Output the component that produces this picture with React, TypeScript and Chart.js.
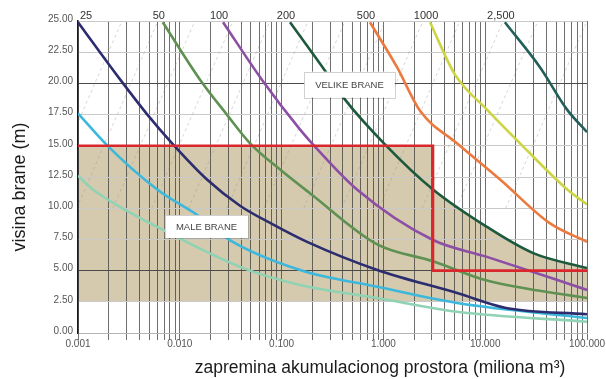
import React, { useEffect, useRef } from "react";
import { Chart, registerables } from "chart.js";

Chart.register(...registerables);

// ---- axis ticks ----
const xTickValues = [0.001, 0.01, 0.1, 1, 10, 100];
const xTickLabels = ["0.001", "0.010", "0.100", "1.000", "10.000", "100.000"];
const xMinorMultipliers = [2, 3, 4, 5, 6, 7, 8, 9];
const yTickStep = 2.5;
const yDarkGrid = [5, 20];

// ---- curves (x: miliona m3, y: visina brane m) ----
const c25X = [0.001, 0.0026, 0.0048, 0.0084, 0.0185, 0.039, 0.082, 0.178, 0.87, 5.3, 16, 100];
const c25Y = [24.9, 20.3, 17.5, 15.2, 12.3, 10.2, 8.7, 7.3, 5.05, 3.2, 2.0, 1.5];
const c50X = [0.0068, 0.0158, 0.029, 0.049, 0.1, 0.19, 0.87, 3.07, 10.4, 100];
const c50Y = [24.9, 20.3, 17.5, 15.2, 13.0, 11.2, 7.1, 5.75, 4.2, 2.8];
const c100X = [0.0266, 0.064, 0.152, 0.204, 0.55, 3.07, 10.4, 100];
const c100Y = [24.9, 20.3, 16.3, 15.1, 11.5, 7.45, 6.1, 3.45];
const c200X = [0.121, 0.279, 0.42, 1.04, 3.07, 10.4, 29.6, 100];
const c200Y = [24.9, 20.8, 18.7, 15.1, 11.5, 8.5, 6.4, 5.2];
const c500X = [0.738, 1.36, 2.29, 5.28, 14, 43, 100];
const c500Y = [24.9, 21.3, 17.8, 15.2, 12.3, 8.8, 7.3];
const c1000X = [2.87, 5.05, 10.4, 22, 64, 100];
const c1000Y = [24.9, 20.7, 17.9, 15.2, 11.5, 10.3];
const c2500X = [15.6, 34.5, 63.7, 100];
const c2500Y = [24.9, 21.3, 17.9, 16.1];
const cCyanX = [0.001, 0.0019, 0.006, 0.0158, 0.031, 0.152, 0.87, 5.3, 100];
const cCyanY = [17.6, 15.1, 11.5, 9.3, 7.45, 5.05, 3.7, 2.4, 1.2];
const cMintX = [0.001, 0.0014, 0.0075, 0.042, 0.152, 0.87, 5.3, 100];
const cMintY = [12.6, 11.5, 8.1, 5.2, 3.85, 2.8, 1.7, 0.9];

// ---- boundary (red) and shaded zone ----
const redX = [0.001, 3.07, 3.07, 100];
const redY = [15, 15, 5, 5];
const zoneRectX = [0.001, 3.07];
const zoneRectY = [15, 15];
const zoneCurveX = [3.07, 10.4, 29.6, 100];
const zoneCurveY = [11.5, 8.5, 6.4, 5.2];
const zoneBase = 2.5;

// ---- faint dashed guide lines (x at y=25 and at y=10) ----
const guideTopX = [0.0027, 0.0061, 0.0141, 0.0333, 0.077, 0.182, 0.42, 1.04, 2.45, 5.65, 15, 33, 100];
const guideLowX = [0.00043, 0.00097, 0.0022, 0.0053, 0.0122, 0.029, 0.067, 0.165, 0.39, 0.9, 2.4, 5.2, 15.9];
const guideTopY = 25;
const guideLowY = 10;

// ---- texts ----
const xTitle = "zapremina akumulacionog prostora (miliona m\u00B3)";
const yTitle = "visina brane (m)";
const boxLabels = ["VELIKE BRANE", "MALE BRANE"];
const boxX = [0.464, 0.0183];
const boxY = [19.9, 8.53];

const FONT = '"Liberation Sans", Arial, Helvetica, sans-serif';

type Curve = { label: string; xs: number[]; ys: number[]; color: string };
const curves: Curve[] = [
  { label: "25", xs: c25X, ys: c25Y, color: "#2c2d6e" },
  { label: "50", xs: c50X, ys: c50Y, color: "#5f9152" },
  { label: "100", xs: c100X, ys: c100Y, color: "#8d4fa5" },
  { label: "200", xs: c200X, ys: c200Y, color: "#1d5a3d" },
  { label: "500", xs: c500X, ys: c500Y, color: "#ec7a3e" },
  { label: "1000", xs: c1000X, ys: c1000Y, color: "#cdd544" },
  { label: "2,500", xs: c2500X, ys: c2500Y, color: "#225f59" },
  { label: "", xs: cCyanX, ys: cCyanY, color: "#3cb8dc" },
  { label: "", xs: cMintX, ys: cMintY, color: "#8fd2b4" },
];

const pts = (xs: number[], ys: number[]) => xs.map((x, i) => ({ x, y: ys[i] }));

const overlayPlugin = {
  id: "overlay",
  afterDatasetsDraw(chart: any) {
    const { ctx, chartArea } = chart;
    const xs = chart.scales.x;
    const ys = chart.scales.y;
    ctx.save();
    ctx.font = `11px ${FONT}`;
    ctx.fillStyle = "#333";
    ctx.textAlign = "center";
    ctx.textBaseline = "middle";
    curves.forEach((c) => {
      if (!c.label) return;
      const px = xs.getPixelForValue(c.xs[0]);
      const w = ctx.measureText(c.label).width;
      const cx = Math.max(px - 4, chartArea.left + w / 2 + 2);
      ctx.fillText(c.label, cx, chartArea.top - 5);
    });
    ctx.font = `9.5px ${FONT}`;
    boxLabels.forEach((t, i) => {
      const cx = xs.getPixelForValue(boxX[i]);
      const cy = ys.getPixelForValue(boxY[i]);
      const w = ctx.measureText(t).width + 22;
      const h = i === 0 ? 26 : 23;
      ctx.fillStyle = "#ffffff";
      ctx.fillRect(cx - w / 2, cy - h / 2, w, h);
      ctx.strokeStyle = "rgba(0,0,0,0.18)";
      ctx.lineWidth = 1;
      ctx.strokeRect(Math.round(cx - w / 2) + 0.5, Math.round(cy - h / 2) + 0.5, Math.round(w), h);
      ctx.fillStyle = "#444";
      ctx.fillText(t, cx, cy + 1);
    });
    ctx.restore();
  },
  afterDraw(chart: any) {
    const { ctx } = chart;
    ctx.save();
    ctx.fillStyle = "#1b1b1b";
    ctx.textAlign = "center";
    ctx.textBaseline = "alphabetic";
    ctx.font = `17.5px ${FONT}`;
    ctx.fillText(xTitle, 380, 373);
    ctx.translate(25, 187);
    ctx.rotate(-Math.PI / 2);
    ctx.font = `18px ${FONT}`;
    ctx.fillText(yTitle, 0, 0);
    ctx.restore();
  },
};

export default function App() {
  const ref = useRef<HTMLCanvasElement | null>(null);
  useEffect(() => {
    if (!ref.current) return;
    const datasets: any[] = [];
    datasets.push({
      label: "granica",
      data: pts(redX, redY),
      borderColor: "#d8282d",
      borderWidth: 2.6,
      pointRadius: 0,
      tension: 0,
      fill: false,
    });
    curves.forEach((c) => {
      datasets.push({
        label: c.label || "c",
        data: pts(c.xs, c.ys),
        borderColor: c.color,
        borderWidth: 2.6,
        pointRadius: 0,
        cubicInterpolationMode: "monotone",
        fill: false,
      });
    });
    datasets.push({
      label: "zona1",
      data: pts(zoneRectX, zoneRectY),
      borderWidth: 0,
      pointRadius: 0,
      backgroundColor: "#d5caad",
      fill: { value: zoneBase },
    });
    datasets.push({
      label: "zona2",
      data: pts(zoneCurveX, zoneCurveY),
      borderWidth: 0,
      pointRadius: 0,
      cubicInterpolationMode: "monotone",
      backgroundColor: "#d5caad",
      fill: { value: zoneBase },
    });
    guideTopX.forEach((gx, i) => {
      datasets.push({
        label: "g",
        data: [
          { x: guideLowX[i], y: guideLowY },
          { x: gx, y: guideTopY },
        ],
        borderColor: "rgba(140,140,140,0.45)",
        borderWidth: 0.8,
        borderDash: [3, 3],
        pointRadius: 0,
        fill: false,
      });
    });

    const minorTicks: number[] = [];
    for (let d = 0; d < xTickValues.length - 1; d++) {
      minorTicks.push(xTickValues[d]);
      xMinorMultipliers.forEach((m) => minorTicks.push(xTickValues[d] * m));
    }
    minorTicks.push(xTickValues[xTickValues.length - 1]);
    const isMajor = (v: number) => xTickValues.some((t) => Math.abs(t - v) / t < 1e-6);

    const chart = new Chart(ref.current, {
      type: "line",
      data: { datasets },
      plugins: [overlayPlugin],
      options: {
        animation: false,
        responsive: false,
        maintainAspectRatio: false,
        layout: { padding: { top: 21, right: 19, left: 0, bottom: 0 } },
        plugins: {
          legend: { display: false },
          tooltip: { enabled: false },
          filler: { drawTime: "beforeDraw" },
        } as any,
        scales: {
          x: {
            type: "logarithmic",
            min: 0.001,
            max: 100,
            afterBuildTicks: (scale: any) => {
              scale.ticks = minorTicks.map((v) => ({ value: v, major: isMajor(v) }));
            },
            afterFit: (scale: any) => {
              scale.height = 46;
            },
            ticks: {
              autoSkip: false,
              maxRotation: 0,
              minRotation: 0,
              padding: -2,
              color: "#555",
              font: { family: FONT, size: 10 },
              callback: (value: any) => {
                const v = Number(value);
                const i = xTickValues.findIndex((t) => Math.abs(t - v) / t < 1e-6);
                return i >= 0 ? xTickLabels[i] : "";
              },
            },
            grid: {
              color: "rgba(55,55,55,0.72)",
              lineWidth: 1,
              tickLength: 7,
              drawTicks: true,
            },
            border: { color: "#b5b5b5", width: 1 },
          },
          y: {
            type: "linear",
            min: 0,
            max: 25,
            afterFit: (scale: any) => {
              scale.width = 78;
            },
            ticks: {
              stepSize: yTickStep,
              padding: 5,
              labelOffset: -2,
              color: "#555",
              font: { family: FONT, size: 10 },
              callback: (value: any) => Number(value).toFixed(2),
            },
            grid: {
              drawTicks: false,
              lineWidth: 1,
              color: (c: any) =>
                yDarkGrid.includes(c.tick?.value) ? "#4a4a4a" : "#c9c9c9",
            },
            border: { color: "#1a1a1a", width: 1.5 },
          },
        },
      } as any,
    });
    return () => chart.destroy();
  }, []);

  return (
    <div style={{ position: "fixed", left: 0, top: 0, width: 606, height: 379, background: "#fff" }}>
      <canvas ref={ref} width={606} height={379} />
    </div>
  );
}
